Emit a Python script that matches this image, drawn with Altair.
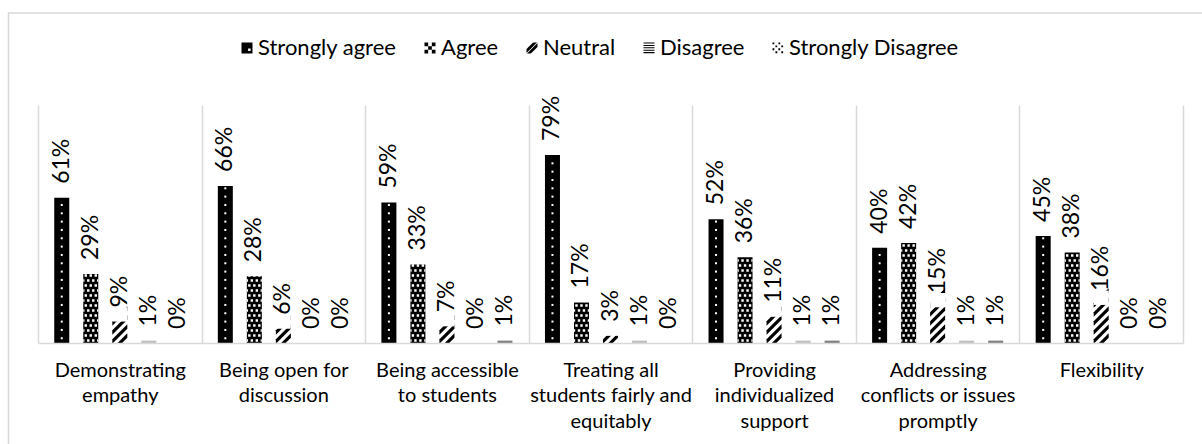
import altair as alt
import pandas as pd

FONT = "Lato"

# Survey results, percent of respondents per behaviour
categories = [
    "Demonstrating|empathy",
    "Being open for|discussion",
    "Being accessible|to students",
    "Treating all|students fairly and|equitably",
    "Providing|individualized|support",
    "Addressing|conflicts or issues|promptly",
    "Flexibility",
]
series = ["Strongly agree", "Agree", "Neutral", "Disagree", "Strongly Disagree"]

strongly_agree = [61, 66, 59, 79, 52, 40, 45]
agree = [29, 28, 33, 17, 36, 42, 38]
neutral = [9, 6, 7, 3, 11, 15, 16]
disagree = [1, 0, 0, 1, 1, 1, 0]
strongly_disagree = [0, 0, 1, 0, 1, 1, 0]

base_fill = ["black", "black", "white", "#bfbfbf", "#7f7f7f"]

rows = []
for name, fill, vals in zip(series, base_fill, [strongly_agree, agree, neutral, disagree, strongly_disagree]):
    for cat, v in zip(categories, vals):
        rows.append({"category": cat, "series": name, "value": v, "fill": fill})
df = pd.DataFrame(rows)


def rect_path(rects, r):
    """Build an SVG path (symbol units) from pixel rectangles."""
    parts = []
    for x0, y0, x1, y1 in rects:
        a, b, c, d = x0 / r, y0 / r, x1 / r, y1 / r
        parts.append(f"M{a:.3f},{b:.3f}L{c:.3f},{b:.3f}L{c:.3f},{d:.3f}L{a:.3f},{d:.3f}Z")
    return " ".join(parts)


# ---- fill textures (one tile = 15 px wide, symbol size 225) ----
R = 7.5
agree_tile = rect_path(
    [(-6.2, -3.7, -3.8, -1.3), (-1.2, -3.7, 1.2, -1.3), (3.8, -3.7, 6.2, -1.3),
     (-3.7, 1.3, -1.3, 3.7), (1.3, 1.3, 3.7, 3.7), (6.3, 1.3, 7.5, 3.7), (-7.5, 1.3, -6.3, 3.7)],
    R,
)
neutral_tile = "M-1,0.7L1,-1.3L1,-0.7L-1,1.3Z"

# ---- legend icons ----
icon_sa = "M-1,-1L1,-1L1,1L-1,1Z M0.2,0.1L0.2,0.55L0.65,0.55L0.65,0.1Z"
cells = []
for r_ in range(3):
    for c_ in range(3):
        if (r_ + c_) % 2 == 0:
            cells.append((-6 + c_ * 4, -6 + r_ * 4, -2 + c_ * 4, -2 + r_ * 4))
icon_agree = rect_path(cells, 6)
icon_neutral = "M-1,0.2L0.2,-1L0.9,-1L-1,0.9Z M1,-0.2L-0.2,1L-0.9,1L1,-0.9Z"
icon_disagree = rect_path([(-6, -6 + i * 2.6, 6, -4.8 + i * 2.6) for i in range(5)], 6)
dots = []
for r_ in range(4):
    for c_ in range(4):
        if (r_ + c_) % 2 == 0:
            dots.append((-6 + c_ * 3.2, -6 + r_ * 3.2, -4 + c_ * 3.2, -4 + r_ * 3.2))
icon_sd = rect_path(dots, 6)
icons = [icon_sa, icon_agree, icon_neutral, icon_disagree, icon_sd]

x_enc = alt.X(
    "category:N",
    sort=categories,
    scale=alt.Scale(paddingInner=0, paddingOuter=0),
    axis=alt.Axis(
        title=None,
        labelExpr="split(datum.label, '|')",
        labelAngle=0,
        labelFont=FONT,
        labelFontSize=20,
        labelColor="black",
        labelPadding=17,
        labelLineHeight=25.5,
        labelLimit=300,
        ticks=False,
        grid=True,
        tickBand="extent",
        gridColor="#d9d9d9",
        gridWidth=1.5,
        domainColor="#d9d9d9",
        domainWidth=1.5,
        zindex=1,
    ),
)
xoff = alt.XOffset(
    "series:N", sort=series, scale=alt.Scale(domain=series, paddingInner=0.483, paddingOuter=0.56)
)
y_scale = alt.Scale(domain=[0, 100])
y_enc = alt.Y("value:Q", scale=y_scale, axis=None)

base = alt.Chart(df)

bars = base.mark_bar().encode(
    x=x_enc,
    xOffset=xoff,
    y=y_enc,
    color=alt.Color("fill:N", scale=None),
)

# white dots on the "Strongly agree" bars (two staggered columns)
sa_left = (
    base.transform_filter("datum.series == 'Strongly agree'")
    .transform_calculate(t="sequence(2, datum.value - 0.5, 7)")
    .transform_flatten(["t"])
    .mark_square(size=4, color="white", opacity=1, xOffset=-4)
    .encode(x=x_enc, xOffset=xoff, y=alt.Y("t:Q", scale=y_scale, axis=None))
)
sa_right = (
    base.transform_filter("datum.series == 'Strongly agree'")
    .transform_calculate(t="sequence(5.5, datum.value - 0.5, 7)")
    .transform_flatten(["t"])
    .mark_square(size=4, color="white", opacity=1, xOffset=4)
    .encode(x=x_enc, xOffset=xoff, y=alt.Y("t:Q", scale=y_scale, axis=None))
)

# checker texture on "Agree"
agree_tex = (
    base.transform_filter("datum.series == 'Agree' && datum.value > 0")
    .transform_calculate(t="sequence(2.1, datum.value + 2.1, 4.2)")
    .transform_flatten(["t"])
    .mark_point(shape=agree_tile, size=225, filled=True, color="white", opacity=1, strokeWidth=0, clip=True)
    .encode(x=x_enc, xOffset=xoff, y=alt.Y("t:Q", scale=y_scale, axis=None))
)

# diagonal stripes on "Neutral"
neutral_tex = (
    base.transform_filter("datum.series == 'Neutral' && datum.value > 0")
    .transform_calculate(t="sequence(0, datum.value + 4, 3.78)")
    .transform_flatten(["t"])
    .mark_point(shape=neutral_tile, size=225, filled=True, color="black", opacity=1, strokeWidth=0, clip=True)
    .encode(x=x_enc, xOffset=xoff, y=alt.Y("t:Q", scale=y_scale, axis=None))
)
# trims the stripes at the top of each bar
neutral_trim = (
    base.transform_filter("datum.series == 'Neutral' && datum.value > 0")
    .transform_calculate(top="datum.value + 6")
    .mark_bar(color="white")
    .encode(x=x_enc, xOffset=xoff, y=y_enc, y2="top:Q")
)

labels = (
    base.transform_calculate(label="datum.value + '%'")
    .mark_text(angle=270, align="left", baseline="middle", dx=14, font=FONT, fontSize=23, color="black")
    .encode(x=x_enc, xOffset=xoff, y=y_enc, text="label:N")
)

legend_layer = (
    base.mark_point(filled=True, color="black", opacity=1, size=121, clip=True, strokeWidth=0)
    .encode(
        x=alt.value(0),
        y=alt.value(-500),
        shape=alt.Shape(
            "series:N",
            sort=series,
            scale=alt.Scale(domain=series, range=icons),
            legend=alt.Legend(
                title=None,
                orient="none",
                legendX=198,
                legendY=-68,
                direction="horizontal",
                labelFont=FONT,
                labelFontSize=22,
                labelColor="black",
                labelOffset=0,
                labelLimit=400,
                columnPadding=22,
                symbolSize=121,
                symbolFillColor="black",
                symbolStrokeWidth=0,
            ),
        ),
    )
)

frame = (
    alt.Chart(pd.DataFrame({"k": [0]}))
    .mark_rect(fillOpacity=0, stroke="#d9d9d9", strokeWidth=1.5)
    .encode(x=alt.value(-29.5), x2=alt.value(1175), y=alt.value(-92), y2=alt.value(360))
)

chart = (
    alt.layer(frame, bars, sa_left, sa_right, agree_tex, neutral_tex, neutral_trim, labels, legend_layer)
    .properties(
        width=1145,
        height=238,
        padding={"left": 38, "top": 105, "right": 19, "bottom": 101},
        autosize=alt.AutoSizeParams(type="none"),
        background="white",
    )
    .configure_view(strokeWidth=0)
)

chart.save("out.html", embed_options={"renderer": "svg", "actions": False})
